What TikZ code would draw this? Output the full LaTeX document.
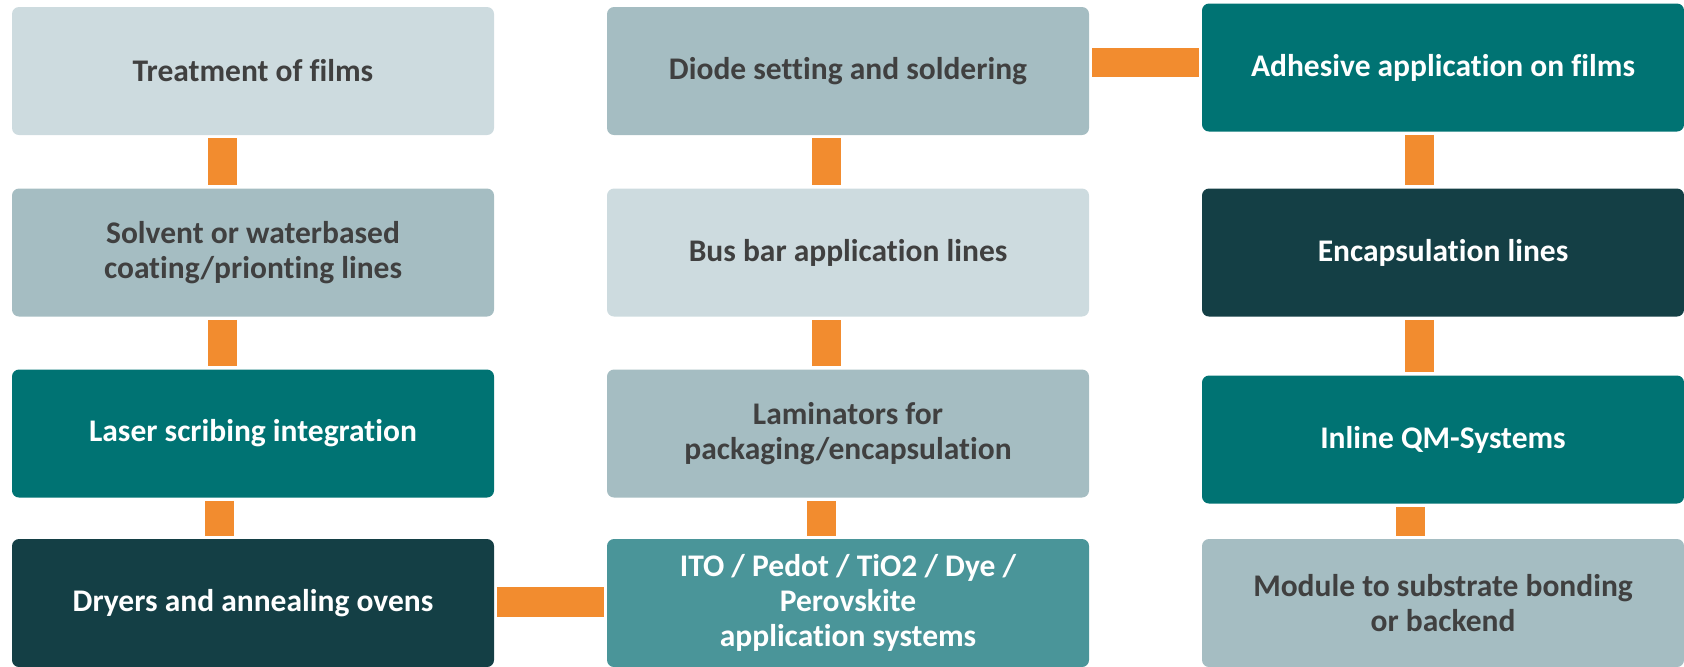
\documentclass[tikz,border=0pt]{standalone}
\usepackage{fontspec}
\setmainfont{Carlito}[RawFeature={-liga;-clig;-dlig;-calt}]

\definecolor{cPale}{HTML}{CDDBDF}
\definecolor{cGrey}{HTML}{A5BDC2}
\definecolor{cTeal}{HTML}{007373}
\definecolor{cDark}{HTML}{143F45}
\definecolor{cSoft}{HTML}{4A9599}
\definecolor{cOrange}{HTML}{F28C2F}
\definecolor{cText}{HTML}{404040}

\tikzset{
  box/.style={rectangle, rounded corners=3.5pt, minimum width=241pt,
    minimum height=64pt, inner sep=0pt, align=center,
    font=\fontsize{15.75}{17.5}\selectfont\bfseries},
  palebox/.style={box, fill=cPale, text=cText},
  greybox/.style={box, fill=cGrey, text=cText},
  tealbox/.style={box, fill=cTeal, text=white},
  darkbox/.style={box, fill=cDark, text=white},
  softbox/.style={box, fill=cSoft, text=white},
  link/.style={draw=cOrange, line width=14.5pt, shorten <=1.5pt, shorten >=1.5pt}
}

\begin{document}
\begin{tikzpicture}[x=0.5pt,y=-0.5pt]
\useasboundingbox (0,0) rectangle (1684,666);

% left column
\node[palebox] (treat) at (253,71) {Treatment of films};
\node[greybox] (solv) at (253,252.5) {Solvent or waterbased\\coating/prionting lines};
\node[tealbox] (laser) at (253,433.5) {Laser scribing integration};
\node[darkbox] (dry) at (253,603) {Dryers and annealing ovens};

% middle column
\node[greybox] (diode) at (848,71) {Diode setting and soldering};
\node[palebox] (bus) at (848,252.5) {Bus bar application lines};
\node[greybox] (lam) at (848,433.5) {Laminators for\\packaging/encapsulation};
\node[softbox] (ito) at (848,603) {ITO / Pedot / TiO2 / Dye /\\Perovskite\\application systems};

% right column
\node[tealbox] (adh) at (1443,67.5) {Adhesive application on films};
\node[darkbox] (encap) at (1443,252.5) {Encapsulation lines};
\node[tealbox] (qm) at (1443,439.5) {Inline QM-Systems};
\node[greybox] (mod) at (1443,603) {Module to substrate bonding\\or backend};

% links
\draw[link] ([xshift=-15.25pt]treat.south) -- ([xshift=-15.25pt]solv.north);
\draw[link] ([xshift=-15.25pt]solv.south) -- ([xshift=-15.25pt]laser.north);
\draw[link] ([xshift=-17pt]laser.south) -- ([xshift=-17pt]dry.north);
\draw[link, line width=15pt] ([yshift=0.5pt]dry.east) -- ([yshift=0.5pt]ito.west);
\draw[link] ([xshift=-13.25pt]ito.north) -- ([xshift=-13.25pt]lam.south);
\draw[link] ([xshift=-10.75pt]lam.north) -- ([xshift=-10.75pt]bus.south);
\draw[link] ([xshift=-10.75pt]bus.north) -- ([xshift=-10.75pt]diode.south);
\draw[link] ([yshift=4.25pt]diode.east) -- ([yshift=4.25pt]diode.east -| adh.west);
\draw[link] ([xshift=-11.75pt]adh.south) -- ([xshift=-11.75pt]encap.north);
\draw[link] ([xshift=-11.75pt]encap.south) -- ([xshift=-11.75pt]qm.north);
\draw[link] ([xshift=-16.25pt]qm.south) -- ([xshift=-16.25pt]mod.north);
\end{tikzpicture}
\end{document}
